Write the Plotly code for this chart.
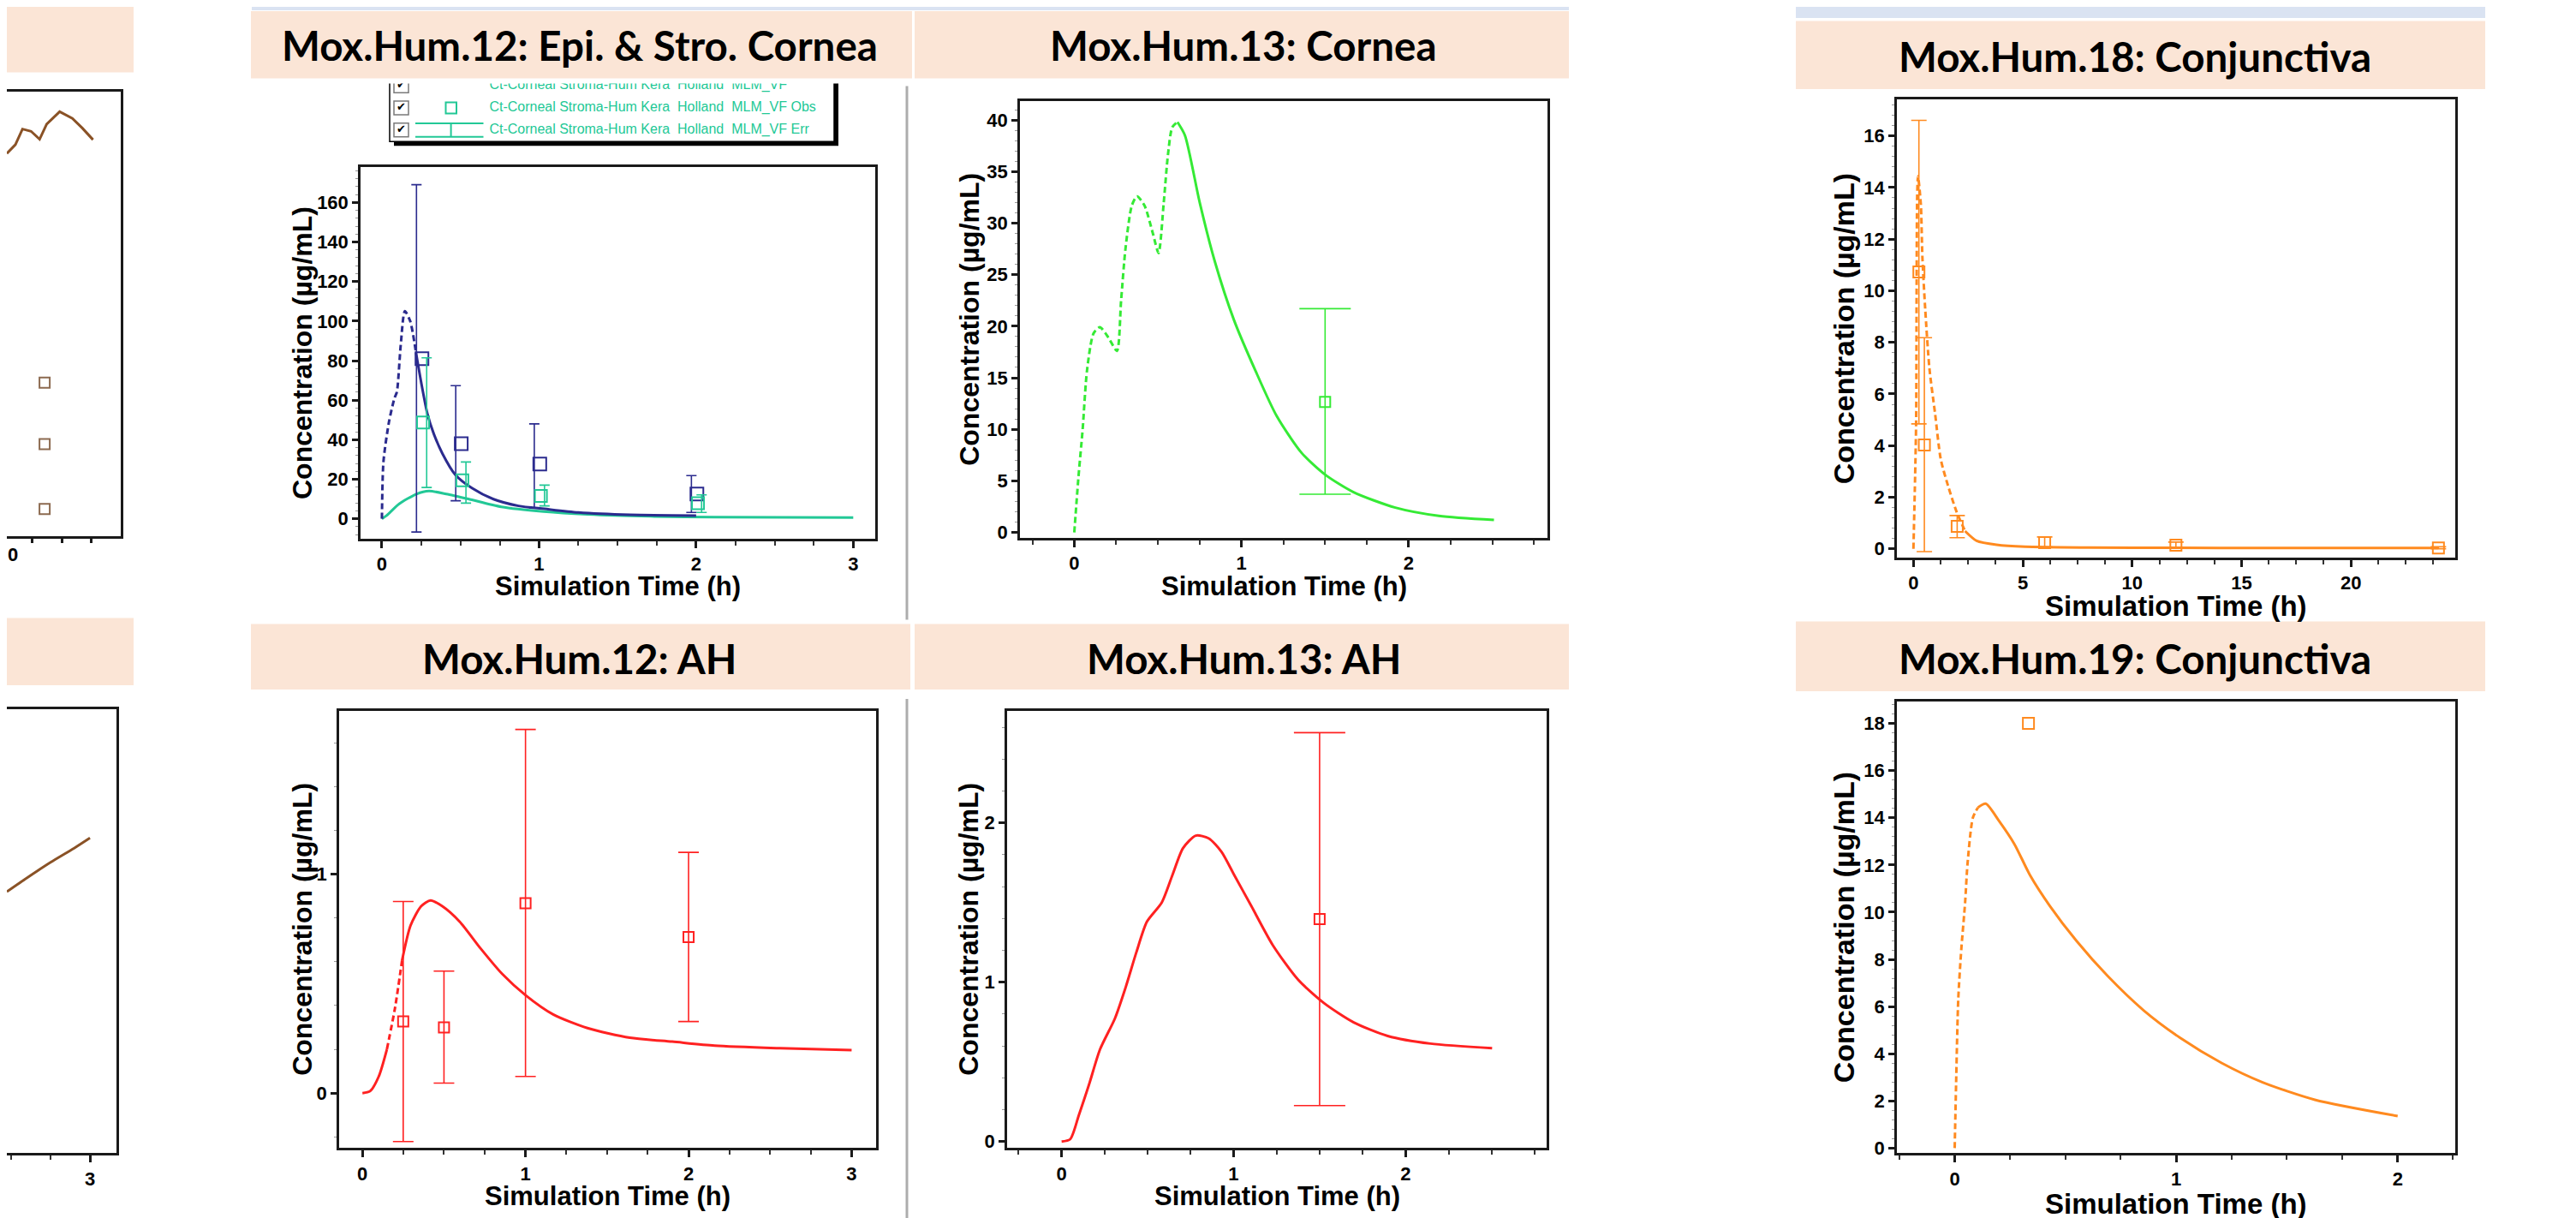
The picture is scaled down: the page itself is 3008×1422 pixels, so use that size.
import plotly.graph_objects as go

W, H = 3008, 1422
AX_FONT = "Liberation Sans, Arial, sans-serif"
TITLE_FONT = "Lato, Calibri, sans-serif"

NAVY = "#2B2B8E"
TEAL = "#22C896"
GREEN = "#35EA35"
RED = "#FF2121"
ORANGE = "#FF8A1F"
BROWN = "#8A5226"
BROWN_OBS = "#8C6A50"
BAND = "#FBE5D6"
STRIP = "#DAE3F2"

# ------------------------------------------------------------------ data
panel_titles = ["Mox.Hum.12: Epi. & Stro. Cornea", "Mox.Hum.13: Cornea", "Mox.Hum.18: Conjunctiva",
                "Mox.Hum.12: AH", "Mox.Hum.13: AH", "Mox.Hum.19: Conjunctiva"]
x_title = "Simulation Time (h)"
y_title = "Concentration (µg/mL)"
legend_labels = ["Ct-Corneal Stroma-Hum Kera\u00a0 Holland\u00a0 MLM_VF",
                 "Ct-Corneal Stroma-Hum Kera\u00a0 Holland\u00a0 MLM_VF Obs",
                 "Ct-Corneal Stroma-Hum Kera\u00a0 Holland\u00a0 MLM_VF Err"]

# cut-off panel, top left
tl_t = [20.13, 20.42, 20.66, 20.95, 21.24, 21.48, 21.92, 22.35, 22.69, 23.05]
tl_c = [86.0, 88.0, 91.5, 91.0, 89.2, 92.6, 95.4, 93.9, 91.7, 89.1]
tl_obs_t = [21.41, 21.41, 21.41]
tl_obs_c = [34.5, 20.7, 6.1]
tl_tick_label = "0"

# cut-off panel, bottom left
bl_t = [2.473, 2.6, 2.75, 2.9, 3.0]
bl_c = [58.9, 62.0, 65.5, 68.7, 71.0]

# Mox.Hum.12 epithelium (navy) and stroma (teal)
epi_t = [0, 0.01, 0.045, 0.08, 0.095, 0.12, 0.146, 0.18, 0.217, 0.25, 0.29, 0.33, 0.385, 0.466,
         0.575, 0.71, 0.87, 1.035, 1.25, 1.58, 2.0]
epi_c = [0, 29, 49, 61, 64, 88, 105, 100, 84, 69, 53, 43, 33, 22.4, 15.4, 9.9, 6.5, 5.0, 3.2, 2.0, 1.6]
epi_obs_t = [0.25, 0.5, 1.0, 2.0]
epi_obs_c = [81.0, 38.0, 27.7, 12.5]
epi_obs_lo = [-6.7, 9.1, 5.5, 3.2]
epi_obs_hi = [169.0, 67.3, 48.0, 21.8]

str_t = [0, 0.03, 0.11, 0.22, 0.30, 0.41, 0.55, 0.76, 1.03, 1.31, 1.71, 2.12, 3.0]
str_c = [0, 1.6, 7.5, 12.5, 14.0, 12.5, 10.0, 6.0, 3.6, 2.2, 1.2, 0.8, 0.6]
str_obs_t = [0.25, 0.5, 1.0, 2.0]
str_obs_c = [48.7, 19.4, 11.5, 7.9]
str_obs_lo = [15.8, 7.9, 6.5, 3.2]
str_obs_hi = [81.4, 28.7, 17.0, 12.1]

# Mox.Hum.13 cornea
c13_t = [0, 0.025, 0.05, 0.076, 0.115, 0.153, 0.204, 0.255, 0.28, 0.306, 0.344, 0.375, 0.42, 0.47,
         0.504, 0.535, 0.56, 0.586, 0.617, 0.662, 0.75, 0.84, 0.955, 1.083, 1.21, 1.36, 1.5, 1.67,
         1.92, 2.18, 2.51]
c13_c = [0, 5.4, 10, 15.7, 19.3, 19.9, 18.9, 17.6, 22.5, 27.5, 31.7, 32.6, 31.7, 29, 27.1, 32,
         36.6, 39.3, 39.8, 38.5, 32, 26.3, 20.6, 15.7, 11.3, 7.7, 5.6, 3.9, 2.4, 1.6, 1.2]
c13_obs_t = [1.5]
c13_obs_c = [12.66]
c13_obs_lo = [3.7]
c13_obs_hi = [21.7]

# Mox.Hum.12 aqueous humour
ah12_t = [0, 0.047, 0.1, 0.15, 0.2, 0.243, 0.295, 0.36, 0.418, 0.49, 0.596, 0.726, 0.857, 1.0,
          1.17, 1.38, 1.64, 1.9, 2.16, 2.56, 3.0]
ah12_c = [0, 0.009, 0.076, 0.2, 0.39, 0.606, 0.765, 0.853, 0.88, 0.853, 0.783, 0.659, 0.544,
          0.447, 0.359, 0.297, 0.253, 0.235, 0.217, 0.205, 0.196]
ah12_obs_t = [0.25, 0.5, 1.0, 2.0]
ah12_obs_c = [0.327, 0.30, 0.867, 0.712]
ah12_obs_lo = [-0.221, 0.046, 0.076, 0.327]
ah12_obs_hi = [0.875, 0.557, 1.66, 1.099]

# Mox.Hum.13 aqueous humour
ah13_t = [0, 0.05, 0.1, 0.16, 0.223, 0.31, 0.372, 0.434, 0.496, 0.582, 0.644, 0.706, 0.78, 0.855,
          0.93, 1.004, 1.103, 1.227, 1.375, 1.524, 1.698, 1.896, 2.144, 2.503]
ah13_c = [0, 0.015, 0.165, 0.36, 0.578, 0.773, 0.967, 1.186, 1.38, 1.5, 1.672, 1.842, 1.92,
          1.903, 1.818, 1.672, 1.478, 1.234, 1.016, 0.87, 0.748, 0.663, 0.615, 0.586]
ah13_obs_t = [1.5]
ah13_obs_c = [1.397]
ah13_obs_lo = [0.226]
ah13_obs_hi = [2.566]

# Mox.Hum.18 conjunctiva
cj18_t = [0, 0.12, 0.145, 0.17, 0.21, 0.34, 0.41, 0.54, 0.73, 0.99, 1.25, 1.58, 1.97, 2.36, 2.89,
          3.8, 5.1, 8, 12, 16, 20, 24]
cj18_c = [0, 4.73, 9.8, 13.6, 14.44, 13.33, 11.3, 9.28, 7.0, 5.24, 3.47, 2.45, 1.44, 0.69, 0.31,
          0.155, 0.08, 0.05, 0.04, 0.035, 0.03, 0.03]
cj18_obs_t = [0.25, 0.5, 2.0, 6.0, 12.0, 24.0]
cj18_obs_c = [10.73, 4.02, 0.875, 0.24, 0.14, 0.03]
cj18_obs_lo = [4.84, -0.11, 0.43, 0.07, 0.04, 0.0]
cj18_obs_hi = [16.6, 8.18, 1.29, 0.46, 0.26, 0.08]

# Mox.Hum.19 conjunctiva
cj19_t = [0, 0.007, 0.016, 0.03, 0.047, 0.058, 0.082, 0.105, 0.14, 0.2, 0.27, 0.34, 0.43, 0.55,
          0.69, 0.854, 1.017, 1.205, 1.39, 1.626, 2.0]
cj19_c = [0, 3.0, 6.3, 8.45, 10.4, 12.06, 14.0, 14.44, 14.6, 13.87, 12.88, 11.57, 10.26, 8.78,
          7.3, 5.83, 4.68, 3.61, 2.79, 2.05, 1.36]
cj19_obs_t = [0.333]
cj19_obs_c = [18.0]

# ------------------------------------------------------------------ helpers
fig = go.Figure()
layout = dict(width=W, height=H, margin=dict(l=0, r=0, t=0, b=0), paper_bgcolor="white",
              plot_bgcolor="rgba(0,0,0,0)", showlegend=False)
shapes, annotations = [], []


def px(v):
    return v / W


def py(v):
    return 1 - v / H


def axes(n, box, xr, yr, xd, xm, yd, ym=None, partial=False, xlabels=True):
    l, t, r, b = box
    line = dict(showline=True, linecolor="#1a1a1a", linewidth=2.5, showgrid=False, zeroline=False,
                fixedrange=True)
    tf = dict(family=AX_FONT, size=22, color="black", weight="bold")
    xa = dict(domain=[px(max(l, 0)), px(r)], range=xr, anchor="y%d" % n, mirror=True,
              ticks="outside", ticklen=8, tickwidth=2.5, tickcolor="#1a1a1a", tickmode="linear",
              tick0=0, dtick=xd, tickfont=tf, showticklabels=xlabels,
              minor=dict(dtick=xm, ticks="outside", ticklen=5, tickwidth=1.5, tickcolor="#333",
                         showgrid=False), **line)
    if partial:
        ya = dict(domain=[py(b), py(t)], range=yr, anchor="x%d" % n, side="right", ticks="",
                  showticklabels=False, **line)
    else:
        ya = dict(domain=[py(b), py(t)], range=yr, anchor="x%d" % n, mirror=True,
                  ticks="outside", ticklen=7, tickwidth=2.5, tickcolor="#1a1a1a",
                  tickmode="linear", tick0=0, dtick=yd, tickfont=tf, **line)
        if ym:
            ya["minor"] = dict(dtick=ym, ticks="outside", ticklen=3, tickwidth=1,
                               tickcolor="#999", showgrid=False)
    layout["xaxis%d" % n] = xa
    layout["yaxis%d" % n] = ya


def curve(n, t, c, color, d0=None, d1=None, width=3, smooth=True):
    # solid up to d0, dashed d0..d1, solid after d1
    if d0 is None:
        segs = [(t, c, "solid")]
    else:
        i0 = max(i for i, v in enumerate(t) if v <= d0)
        i1 = max(i for i, v in enumerate(t) if v <= d1)
        segs = [(t[:i0 + 1], c[:i0 + 1], "solid"), (t[i0:i1 + 1], c[i0:i1 + 1], "7px,4px"),
                (t[i1:], c[i1:], "solid")]
    for ts, cs, dash in segs:
        if len(ts) < 2:
            continue
        ln = dict(color=color, width=width, dash=dash)
        if smooth:
            ln.update(shape="spline", smoothing=0.7)
        fig.add_trace(go.Scatter(x=ts, y=cs, mode="lines", xaxis="x%d" % n, yaxis="y%d" % n,
                                 line=ln, hoverinfo="skip"))


def obs(n, t, c, color, size=13, lo=None, hi=None, cap=6, shift=0.0, mshift=0.0):
    fig.add_trace(go.Scatter(x=[v + mshift for v in t], y=c, mode="markers", xaxis="x%d" % n,
                             yaxis="y%d" % n,
                             marker=dict(symbol="square-open", size=size, color=color,
                                         line=dict(width=2, color=color)), hoverinfo="skip"))
    if lo is not None:
        fig.add_trace(go.Scatter(
            x=[v + shift for v in t], y=c, mode="markers", xaxis="x%d" % n, yaxis="y%d" % n,
            marker=dict(size=1, opacity=0, color=color), hoverinfo="skip",
            error_y=dict(type="data", symmetric=False, array=[h - v for h, v in zip(hi, c)],
                         arrayminus=[v - q for v, q in zip(c, lo)], color=color, thickness=1.6,
                         width=cap)))


def rect(x0, y0, x1, y1, fill, line_color=None, lw=0, layer="above"):
    shapes.append(dict(type="rect", xref="paper", yref="paper", x0=px(x0), x1=px(x1), y0=py(y1),
                       y1=py(y0), fillcolor=fill, layer=layer,
                       line=dict(color=line_color or fill, width=lw)))


def seg(x0, y0, x1, y1, color, lw, layer="above"):
    shapes.append(dict(type="line", xref="paper", yref="paper", x0=px(x0), x1=px(x1), y0=py(y0),
                       y1=py(y1), layer=layer, line=dict(color=color, width=lw)))


def text(x, y, s, size, family=AX_FONT, angle=0, weight="bold", xanchor="center"):
    annotations.append(dict(x=px(x), y=py(y), xref="paper", yref="paper", text=s, showarrow=False,
                            textangle=angle, xanchor=xanchor, yanchor="middle",
                            font=dict(family=family, size=size, color="black", weight=weight)))


# ------------------------------------------------------------------ panels
# 1: top-left cut-off panel
axes(1, (0, 99, 133, 621), [20.13, 23.99], [0, 100], 1, 1, None, partial=True, xlabels=False)
layout["xaxis1"]["ticklen"] = 5
curve(1, tl_t, tl_c, BROWN, smooth=False)
obs(1, tl_obs_t, tl_obs_c, BROWN_OBS, size=12)

# 2: bottom-left cut-off panel
axes(2, (0, 824, 128, 1345), [2.473, 3.168], [0, 100], 1, 0.25, None, partial=True)
curve(2, bl_t, bl_c, BROWN)

# 3: Mox.Hum.12 Epi & Stroma
axes(3, (413, 188, 1014, 624), [-0.136, 3.14], [-10.1, 177.9], 1, 0.25, 20, 4)
curve(3, str_t, str_c, TEAL)
curve(3, epi_t, epi_c, NAVY, d0=0, d1=0.217)
obs(3, epi_obs_t, epi_obs_c, NAVY, size=15, lo=epi_obs_lo, hi=epi_obs_hi, cap=6, shift=-0.03,
    mshift=0.005)
obs(3, str_obs_t, str_obs_c, TEAL, size=14, lo=str_obs_lo, hi=str_obs_hi, cap=6, shift=0.035,
    mshift=0.012)

# 4: Mox.Hum.13 cornea
axes(4, (1183, 111, 1799, 623), [-0.325, 2.83], [-0.53, 41.8], 1, 0.25, 5, 1)
curve(4, c13_t, c13_c, GREEN, d0=0, d1=0.617)
obs(4, c13_obs_t, c13_obs_c, GREEN, size=12, lo=c13_obs_lo, hi=c13_obs_hi, cap=30)

# 5: Mox.Hum.12 AH
axes(5, (388, 826, 1015, 1339), [-0.143, 3.15], [-0.251, 1.745], 1, 0.25, 1, 0.2)
curve(5, ah12_t, ah12_c, RED, d0=0.17, d1=0.243)
obs(5, ah12_obs_t, ah12_obs_c, RED, size=12, lo=ah12_obs_lo, hi=ah12_obs_hi, cap=12)

# 6: Mox.Hum.13 AH
axes(6, (1168, 826, 1798, 1339), [-0.317, 2.82], [-0.041, 2.703], 1, 0.25, 1, 0.2)
curve(6, ah13_t, ah13_c, RED)
obs(6, ah13_obs_t, ah13_obs_c, RED, size=12, lo=ah13_obs_lo, hi=ah13_obs_hi, cap=30)

# 7: Mox.Hum.18 conjunctiva
axes(7, (2207, 109, 2859, 646), [-0.756, 24.77], [-0.334, 17.4], 5, 1.25, 2, 0.4)
curve(7, cj18_t, cj18_c, ORANGE, d0=0, d1=2.36)
obs(7, cj18_obs_t, cj18_obs_c, ORANGE, size=13, lo=cj18_obs_lo, hi=cj18_obs_hi, cap=9)

# 8: Mox.Hum.19 conjunctiva
axes(8, (2207, 815, 2859, 1345), [-0.261, 2.26], [-0.217, 18.93], 1, 0.25, 2, 0.4)
curve(8, cj19_t, cj19_c, ORANGE, d0=0, d1=0.105)
obs(8, cj19_obs_t, cj19_obs_c, ORANGE, size=13)

# 9: overlay axis (pixel space) for the legend text of panel 3
layout["xaxis9"] = dict(domain=[0, 1], range=[0, W], visible=False, fixedrange=True, anchor="y9")
layout["yaxis9"] = dict(domain=[0, 1], range=[H, 0], visible=False, fixedrange=True, anchor="x9")

# ------------------------------------------------------------------ legend of panel 3
leg_rows = [92.7, 118.6, 144.5]
rect(452, 72, 971, 163, "black", layer="below")            # shadow
rect(447, 68, 966, 158, "white", "black", 1.5, layer="below")
for yy in leg_rows:
    rect(452, yy - 8, 469, yy + 8, "white", "#7a7a7a", 1.5, layer="below")
rect(512.5, leg_rows[1] - 6.5, 525, leg_rows[1] + 6.5, "rgba(0,0,0,0)", TEAL, 2, layer="below")
seg(477, 136.6, 556.5, 136.6, TEAL, 2, layer="below")
seg(477, 152.4, 556.5, 152.4, TEAL, 2, layer="below")
seg(518.6, 136.6, 518.6, 152.4, TEAL, 2, layer="below")
fig.add_trace(go.Scatter(x=[563.4] * 3, y=leg_rows, mode="text", text=legend_labels,
                         textposition="middle right", xaxis="x9", yaxis="y9", cliponaxis=False,
                         textfont=dict(family=AX_FONT, size=16, color=TEAL), hoverinfo="skip"))
fig.add_trace(go.Scatter(x=[460.5] * 3, y=leg_rows, mode="text", text=["✔"] * 3,
                         textposition="middle center", xaxis="x9", yaxis="y9", cliponaxis=False,
                         textfont=dict(family="DejaVu Sans", size=13, color="black"),
                         hoverinfo="skip"))
# the upper part of the legend is cropped away in the original screenshot
rect(440, 80, 975, 90, "white")

# ------------------------------------------------------------------ decorations
rect(286, 0, 1824, 4, STRIP)
rect(2089, 0, 2894, 13, STRIP)
bands = [(0, 0, 148, 77), (285, 5, 1057, 84), (1060, 5, 1824, 84), (2089, 16.5, 2894, 96.4),
         (0, 717, 148, 796), (285, 724, 1055, 801), (1060, 724, 1824, 801), (2089, 721, 2894, 803)]
for b in bands:
    rect(*b, BAND)
seg(1051, 93, 1051, 719, "#ADADAD", 3)
seg(1051, 812, 1051, 1422, "#ADADAD", 3)

title_pos = [(669, 45), (1444, 45), (2485, 58), (668, 764.5), (1444, 764.5), (2485, 764.5)]
for s, (x, y) in zip(panel_titles, title_pos):
    text(x, y, s, 47.5, family=TITLE_FONT)

ytitle_pos = [(345, 406), (1124.6, 367), (344.7, 1082.5), (1123.6, 1082.5), (2144.6, 377.5),
              (2144.6, 1080)]
xtitle_pos = [(713.5, 680), (1491, 680), (701.5, 1395.7), (1483, 1395.7), (2533, 702.5),
              (2533, 1404.8)]
ysz = [32, 32, 32, 32, 34, 34]
xsz = [31, 31, 31, 31, 33, 33]
for (x, y), s in zip(ytitle_pos, ysz):
    text(x, y, y_title, s, angle=-90)
for (x, y), s in zip(xtitle_pos, xsz):
    text(x, y, x_title, s)

# partially visible tick label of the cut-off top-left panel
text(7, 643, tl_tick_label, 22)

layout["shapes"] = shapes
layout["annotations"] = annotations
fig.update_layout(**layout)
fig.write_html("out.html")
